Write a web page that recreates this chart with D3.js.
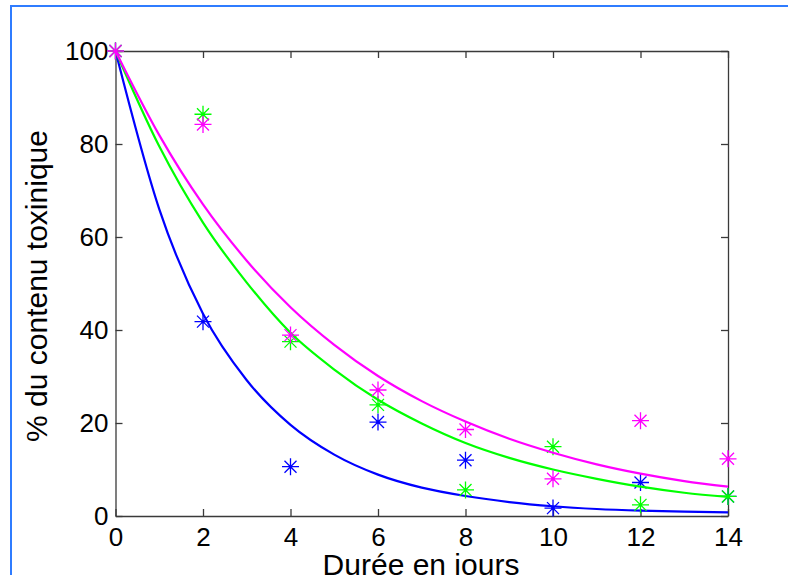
<!DOCTYPE html>
<html lang="fr">
<head>
<meta charset="UTF-8">
<title>Contenu toxinique</title>
<script src="https://cdn.jsdelivr.net/npm/d3@7/dist/d3.min.js"></script>
<style>
    body{margin:0;background:#fff;}
    svg{display:block;font-family:"Liberation Sans",Arial,Helvetica,sans-serif;}
</style>
</head>
<body>
<svg width="788" height="575"></svg>
<script>
    // mesures (jours, % restant)
    var jours = [0,2,4,6,8,10,12,14];
    var mesuresBleu = [100,41.8,10.6,20.2,12.0,1.7,7.2,4.2];
    var mesuresVert = [100,86.4,37.5,23.9,5.6,14.9,2.4,4.2];
    var mesuresMagenta = [100,84.2,38.9,27.1,18.6,8.0,20.5,12.3];

    // courbes ajustees, lues jour par jour
    var joursCourbe = [0,1,2,3,4,5,6,7,8,9,10,11,12,13,14];
    var courbeBleu = [100,66,43.5,29.2,19.6,13.2,8.9,6.1,4.3,3.0,2.1,1.5,1.15,0.95,0.8];
    var courbeVert = [100,79.5,63.1,50.2,39.4,31.5,25.0,19.9,15.7,12.5,10.0,8.0,6.3,5.0,4.1];
    var courbeMagenta = [100,81.9,67.0,54.9,44.9,36.8,30.1,24.7,20.3,16.6,13.6,11.1,9.1,7.5,6.3];

    var ticksX = [0,2,4,6,8,10,12,14];
    var ticksY = [0,20,40,60,80,100];

    var svg = d3.select("svg");
    var marge = {gauche:115.5, droite:728, haut:51, bas:516};

    // cadre bleu de la fenetre
    svg.append("rect")
        .attr("x",11).attr("y",6)
        .attr("width",800).attr("height",600)
        .attr("fill","none")
        .attr("stroke","#2f7cff")
        .attr("stroke-width",2);

    var x = d3.scaleLinear().domain([0,14]).range([marge.gauche,marge.droite]);
    var y = d3.scaleLinear().domain([0,100]).range([marge.bas,marge.haut]);

    var axeCouleur = "#3a3a3a";

    function styleAxe(g){
        g.attr("font-family",null);
        g.select(".domain").attr("stroke",axeCouleur).attr("stroke-width",1.3);
        g.selectAll(".tick line").attr("stroke",axeCouleur).attr("stroke-width",1.3);
        g.selectAll(".tick text").attr("fill","#000").attr("font-size",26);
    }

    svg.append("g")
        .attr("transform","translate(0,"+marge.bas+")")
        .call(d3.axisBottom(x).tickValues(ticksX).tickSizeInner(-7).tickSizeOuter(0).tickPadding(12))
        .call(styleAxe);
    svg.append("g")
        .attr("transform","translate("+marge.gauche+",0)")
        .call(d3.axisLeft(y).tickValues(ticksY).tickSizeInner(-7).tickSizeOuter(0).tickPadding(7))
        .call(styleAxe);
    svg.append("g")
        .attr("transform","translate(0,"+marge.haut+")")
        .call(d3.axisTop(x).tickValues(ticksX).tickSizeInner(-7).tickSizeOuter(0).tickFormat(""))
        .call(styleAxe);
    svg.append("g")
        .attr("transform","translate("+marge.droite+",0)")
        .call(d3.axisRight(y).tickValues(ticksY).tickSizeInner(-7).tickSizeOuter(0).tickFormat(""))
        .call(styleAxe);

    var series = [
        {couleur:"#0000ff", mesures:mesuresBleu, courbe:courbeBleu},
        {couleur:"#00ff00", mesures:mesuresVert, courbe:courbeVert},
        {couleur:"#ff00ff", mesures:mesuresMagenta, courbe:courbeMagenta}
    ];

    var ligne = d3.line()
        .x(function(d){ return x(d[0]); })
        .y(function(d){ return y(d[1]); })
        .curve(d3.curveMonotoneX);

    // etoile facon matlab : + et x
    var r = 8.5, dd = 6;
    var etoile = "M"+(-r)+",0H"+r+"M0,"+(-r)+"V"+r+
        "M"+(-dd)+","+(-dd)+"L"+dd+","+dd+"M"+(-dd)+","+dd+"L"+dd+","+(-dd);

    series.forEach(function(s){
        svg.append("path")
            .datum(joursCourbe.map(function(j,i){ return [j, s.courbe[i]]; }))
            .attr("d",ligne)
            .attr("fill","none")
            .attr("stroke",s.couleur)
            .attr("stroke-width",2.2);

        var pts = svg.append("g").selectAll("g")
            .data(jours.map(function(j,i){ return [j, s.mesures[i]]; }))
            .enter().append("g")
            .attr("transform",function(d){ return "translate("+x(d[0])+","+y(d[1])+")"; });
        pts.append("path")
            .attr("d",etoile)
            .attr("stroke",s.couleur)
            .attr("stroke-width",1.3)
            .attr("fill","none");
        pts.append("circle")
            .attr("r",1.6)
            .attr("fill",s.couleur);
    });

    // titres des axes
    svg.append("text")
        .attr("x",421)
        .attr("y",574.5)
        .attr("text-anchor","middle")
        .attr("font-size",30)
        .text("Durée en jours");
    svg.append("text")
        .attr("transform","translate(46.5,286) rotate(-90)")
        .attr("text-anchor","middle")
        .attr("font-size",30)
        .text("% du contenu toxinique");
</script>
</body>
</html>
